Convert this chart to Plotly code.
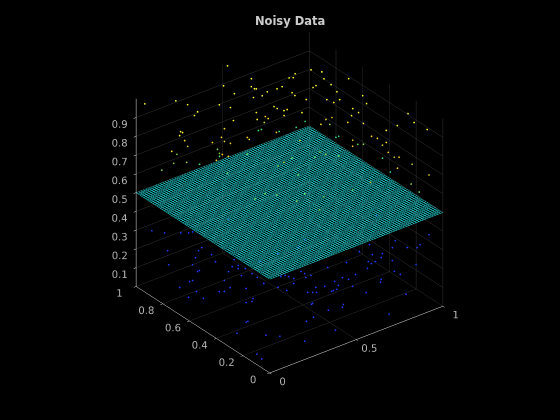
import plotly.graph_objects as go

# noisy samples (x, y, z in data units)
noise_x = [.02,.216,.231,.239,.2,.122,.185,.063,.22,.259,.09,.22,.153,.2,.082,.52,.389,.318,.484,.414,.369,.546,.49,.584,.508,.553,.529,.603,.583,.713,.682,.753,.788,.873,.912,.864,.828,.693,.62,.572,.667,.552,.731,.636,.673,.564,.483,.652,.607,.676,.935,.682,.693,.664,.785,.875,.503,.454,.392,.326,.42,.414,.293,.395,.374,.301,.402,.252,.302,.295,
           .825,.919,.918,.911,.926,.819,.928,.81,.949,.907,.913,.85,.853,.816,.921,.742,.941,.923,.896,.923,.963,.974,.968,.971,.953,.919,.923,.965,.885,.952,.959,.829,.963,.962,.902,.952,.914,.993,.989,.88,.967,.994,.902,.903,
           .492,.537,.558,.631,.716,.72,.754,.812,.766,.529,.738,.673,.442,.27,.371,.387,.478,.559,.334,.314,
           .046,.092,.207,.277,.095,.075,.187,.282,.151,.176,.193,.079,.221,.19,.1,.24,.198,.359,.164,.301,.344,.231,.225,.071,.138,.091,.069,.04,.066,.095,.197,.135,.165,.162,.214,.109,.088,.054,.048,.126,.176,.249,.02,.016,.356,.325,.43,.322,.34,.364,.257,.344,.242,.416,.49,.392,.529,.393,.477,.465,.567,.377,.503,.347,.417,.263,
           .967,.879,.924,.916,.92,.835,.869,.8,.711,.928,.834,.881,.794,.817,.89,.826,.719,.841,.717,.772,.917,.668,.655,.645,.675,.542,.597,.499,.634,.738,.819,.6,.604,.481,.53,.589,.489,.542,.407,.405,
           .33,.436,.221,.34,.898,.448,.505]
noise_y = [.961,.983,.914,.85,.823,.825,.892,.756,.922,.95,.85,.98,.917,.881,.914,.99,.85,.789,.892,.831,.75,.845,.773,.872,.759,.839,.742,.8,.701,.831,.739,.8,.831,.822,.792,.714,.8,.731,.615,.709,.809,.609,.817,.717,.631,.831,.72,.878,.798,.917,.947,.969,.961,.811,.947,.936,.82,.742,.847,.784,.883,.831,.809,.903,.861,.745,.897,.726,.917,.692,
           .745,.845,.731,.678,.609,.634,.723,.526,.534,.451,.562,.437,.493,.637,.728,.579,.77,.612,.46,.324,.293,.227,.174,.08,.473,.385,.324,.407,.526,.532,.584,.454,.753,.731,.282,.302,.216,.443,.216,.185,.061,.385,.111,.052,
           .806,.633,.616,.652,.702,.595,.558,.536,.617,.282,.202,.252,.2,.46,.427,.299,.357,.512,.468,.724,
           .942,.906,.875,.936,.789,.861,.775,.875,.631,.784,.656,.859,.864,.773,.67,.62,.537,.701,.449,.573,.712,.512,.631,.692,.756,.792,.637,.659,.582,.501,.595,.471,.39,.335,.41,.318,.277,.246,.307,.191,.152,.061,.122,.08,.186,.094,.244,.097,.313,.41,.377,.54,.446,.255,.313,.158,.341,.33,.438,.332,.426,.227,.418,.307,.426,.258,
           .061,.014,.094,.158,.097,.105,.194,.017,.028,.263,.163,.299,.194,.291,.407,.399,.194,.329,.138,.269,.271,.291,.415,.194,.285,.158,.288,.133,.202,.122,.233,.055,.282,.147,.224,.352,.083,.158,.089,.033,
           .367,.354,.359,.75,.366,.356,.393]
noise_z = [.984,.92,.926,.915,.921,.862,.804,.894,.735,.677,.757,.635,.64,.645,.63,.995,1.0,.952,.905,.884,.868,.984,.995,.905,.984,.884,.947,.915,.984,.889,.989,.937,.931,.926,.915,.931,.794,.91,.974,.889,.799,.921,.767,.815,.857,.804,.847,.73,.772,.672,.571,.603,.608,.672,.571,.566,.698,.741,.772,.778,.677,.693,.751,.635,.64,.714,.598,.709,.582,.73,
           .884,.815,.873,.862,.958,.873,.778,.926,.894,.905,.825,.884,.841,.767,.698,.794,.635,.725,.799,.815,.841,.931,.91,.915,.704,.746,.751,.683,.683,.635,.608,.704,.566,.582,.725,.672,.725,.587,.661,.693,.683,.54,.635,.619,
           .62,.62,.64,.62,.66,.62,.64,.62,.62,.62,.66,.62,.62,.62,.62,.64,.62,.62,.62,.62,
           .307,.296,.27,.222,.349,.228,.228,.164,.286,.19,.222,.153,.1,.122,.196,.169,.249,.122,.291,.185,.153,.201,.122,.143,.095,.058,.116,.085,.106,.169,.09,.19,.212,.185,.116,.19,.116,.138,.053,.069,.063,.053,.037,.032,.063,.138,.101,.212,.175,.138,.212,.138,.238,.164,.111,.217,.111,.185,.132,.19,.122,.291,.169,.249,.175,.302,
           .365,.365,.296,.27,.206,.18,.143,.127,.048,.254,.296,.185,.243,.206,.18,.169,.249,.132,.275,.159,.148,.217,.138,.206,.127,.243,.143,.228,.143,.18,.085,.19,.101,.201,.143,.09,.153,.085,.148,.069,
           .35,.35,.35,.35,.35,.35,.35]

# fitted flat surface
plane_level = 0.5
plane_lines = 72

x_ticks = [0, 0.5, 1]
y_ticks = [0, 0.2, 0.4, 0.6, 0.8, 1]
z_ticks = [0.1, 0.2, 0.3, 0.4, 0.5, 0.6, 0.7, 0.8, 0.9]

noise_scale = [[0, "#2038ff"], [0.4, "#2038ff"], [0.5, "#20c8c0"], [0.6, "#40e060"],
               [0.7, "#ffc820"], [0.85, "#ffff30"], [1, "#ffff30"]]

mesh_x, mesh_y, mesh_z = [], [], []
for i in range(plane_lines + 1):
    t = i / plane_lines
    mesh_x += [t, t, None, 0, 1, None]
    mesh_y += [0, 1, None, t, t, None]
    mesh_z += [plane_level, plane_level, None, plane_level, plane_level, None]

fig = go.Figure()
fig.add_trace(go.Scatter3d(x=mesh_x, y=mesh_y, z=mesh_z, mode="lines",
                           line=dict(color="#22dede", width=1), hoverinfo="skip"))
fig.add_trace(go.Scatter3d(x=noise_x, y=noise_y, z=noise_z, mode="markers",
                           marker=dict(size=1, color=noise_z, colorscale=noise_scale, cmin=0, cmax=1,
                                       line=dict(width=0)),
                           hoverinfo="skip"))

tick_font = dict(family="DejaVu Sans", size=11, color="#b3b3b3")


def axis_style(ticks):
    return dict(range=[0, 1], autorange=False, tickvals=ticks, title="",
                tickfont=tick_font, tickangle=0, showgrid=True, gridcolor="#333333", gridwidth=1,
                showline=True, linecolor="#e6e6e6", linewidth=1, zeroline=False,
                showbackground=False, showspikes=False, ticks="outside", ticklen=3,
                tickcolor="#e6e6e6")


fig.update_layout(
    width=560, height=420,
    paper_bgcolor="black", plot_bgcolor="black",
    margin=dict(l=0, r=0, t=0, b=0),
    showlegend=False,
    title=dict(text="<b>Noisy Data</b>", x=0.518, xanchor="center", y=0.95, yanchor="middle",
               font=dict(family="DejaVu Sans", size=11.5, color="#cccccc")),
    scene=dict(
        domain=dict(x=[0.034, 1], y=[0.036, 1]),
        aspectmode="manual",
        aspectratio=dict(x=1.08, y=1.08, z=1.07),
        xaxis=axis_style(x_ticks),
        yaxis=axis_style(y_ticks),
        zaxis=axis_style(z_ticks),
        bgcolor="black",
        camera=dict(eye=dict(x=-0.847, y=-1.098, z=0.80),
                    center=dict(x=0, y=0, z=0),
                    up=dict(x=0, y=0, z=1),
                    projection=dict(type="orthographic")),
    ),
)

# the page's default body margin would push the figure off its place
fig.write_html("out.html", config=dict(displayModeBar=False),
               post_script="document.body.style.margin='0';document.body.style.background='black';")
